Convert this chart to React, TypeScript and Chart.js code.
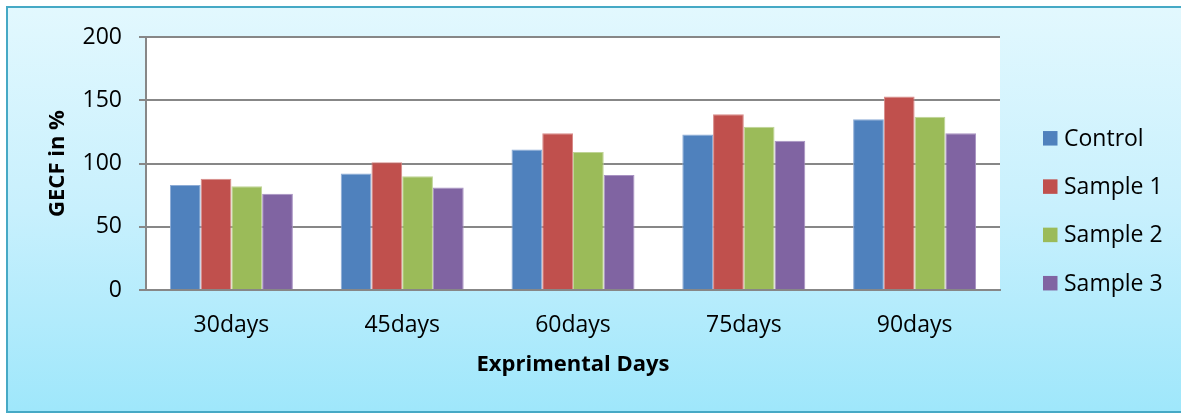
import { useEffect, useRef } from "react";
import { Chart, registerables } from "chart.js";

Chart.register(...registerables);

// Data
const categories = ["30days", "45days", "60days", "75days", "90days"];
const seriesNames = ["Control", "Sample 1", "Sample 2", "Sample 3"];
const controlValues = [83, 92, 111, 123, 135];
const sample1Values = [88, 101, 124, 139, 153];
const sample2Values = [82, 90, 109, 129, 137];
const sample3Values = [76, 81, 91, 118, 124];
const yTickValues = [0, 50, 100, 150, 200];

const seriesValues = [controlValues, sample1Values, sample2Values, sample3Values];
const seriesColors = ["#4F81BD", "#C0504D", "#9BBB59", "#8064A2"];
const seriesEdges = ["#8DACD6", "#D88A88", "#BFD496", "#A892C2"];

const FONT = "'Open Sans', 'DejaVu Sans', sans-serif";
const GRID = "#878787";

// White fill behind the plotting area
const plotBackground = {
  id: "plotBackground",
  beforeDraw(chart: any) {
    const { ctx, chartArea } = chart;
    ctx.save();
    ctx.fillStyle = "#FFFFFF";
    ctx.fillRect(chartArea.left, chartArea.top, chartArea.right - chartArea.left, chartArea.bottom - chartArea.top);
    ctx.restore();
  },
};

// Vertical legend to the right of the plot
const sideLegend = {
  id: "sideLegend",
  afterDraw(chart: any) {
    const { ctx, chartArea } = chart;
    const boxX = chartArea.right + 43;
    const firstY = 138.3;
    const step = 48.3;
    const box = 14.5;
    ctx.save();
    ctx.font = `23px ${FONT}`;
    ctx.textBaseline = "middle";
    ctx.textAlign = "left";
    chart.data.datasets.forEach((ds: any, i: number) => {
      const cy = firstY + i * step;
      ctx.fillStyle = ds.backgroundColor;
      ctx.fillRect(boxX, cy - box / 2, box, box);
      ctx.fillStyle = "#000000";
      ctx.fillText(ds.label, boxX + 21, cy + 1);
    });
    ctx.restore();
  },
};

export default function App() {
  const canvasRef = useRef<HTMLCanvasElement>(null);

  useEffect(() => {
    const canvas = canvasRef.current;
    if (!canvas) return;
    const chart = new Chart(canvas, {
      type: "bar",
      data: {
        labels: categories,
        datasets: seriesValues.map((data, i) => ({
          label: seriesNames[i],
          data,
          backgroundColor: seriesColors[i],
          borderColor: seriesEdges[i],
          borderWidth: 1,
          categoryPercentage: 0.72,
          barPercentage: 1,
        })),
      },
      options: {
        responsive: false,
        animation: false,
        devicePixelRatio: 1,
        layout: { padding: { left: 0, top: 37, right: 181, bottom: 0 } },
        plugins: {
          legend: { display: false },
          tooltip: { enabled: false },
        },
        scales: {
          x: {
            grid: { display: false, drawTicks: false },
            border: { display: true, color: GRID, width: 2 },
            ticks: { color: "#000000", font: { family: FONT, size: 23 }, padding: 22 },
            title: {
              display: true,
              text: "Exprimental Days",
              color: "#000000",
              font: { family: FONT, size: 22, weight: "bold" },
              padding: { top: 0, bottom: 36 },
            },
            afterFit: (scale: any) => {
              scale.height = 124;
            },
          },
          y: {
            min: 0,
            max: 200,
            grid: { color: GRID, lineWidth: 2, tickLength: 7, tickColor: GRID, drawTicks: true },
            border: { color: GRID, width: 2 },
            ticks: { stepSize: 50, color: "#000000", font: { family: FONT, size: 23 }, padding: 17 },
            afterBuildTicks: (scale: any) => {
              scale.ticks = yTickValues.map((value) => ({ value }));
            },
            title: {
              display: true,
              text: "GECF in %",
              color: "#000000",
              font: { family: FONT, size: 22, weight: "bold" },
              padding: { top: 45, bottom: 0 },
            },
            afterFit: (scale: any) => {
              scale.width = 146;
            },
          },
        },
      } as any,
      plugins: [plotBackground, sideLegend],
    });
    return () => chart.destroy();
  }, []);

  return (
    <div
      style={{
        position: "fixed",
        left: 0,
        top: 0,
        width: 1181,
        height: 414,
        overflow: "hidden",
        background: "#FFFFFF",
      }}
    >
      <div
        style={{
          position: "absolute",
          left: 6,
          top: 6,
          width: 1260,
          height: 407,
          boxSizing: "border-box",
          border: "2px solid #46A9C5",
          background: "linear-gradient(to bottom, #E2F8FE 0%, #C8F0FD 50%, #9FE7FB 100%)",
        }}
      />
      <canvas
        ref={canvasRef}
        width={1181}
        height={414}
        style={{ position: "absolute", left: 0, top: 0, display: "block" }}
      />
    </div>
  );
}
